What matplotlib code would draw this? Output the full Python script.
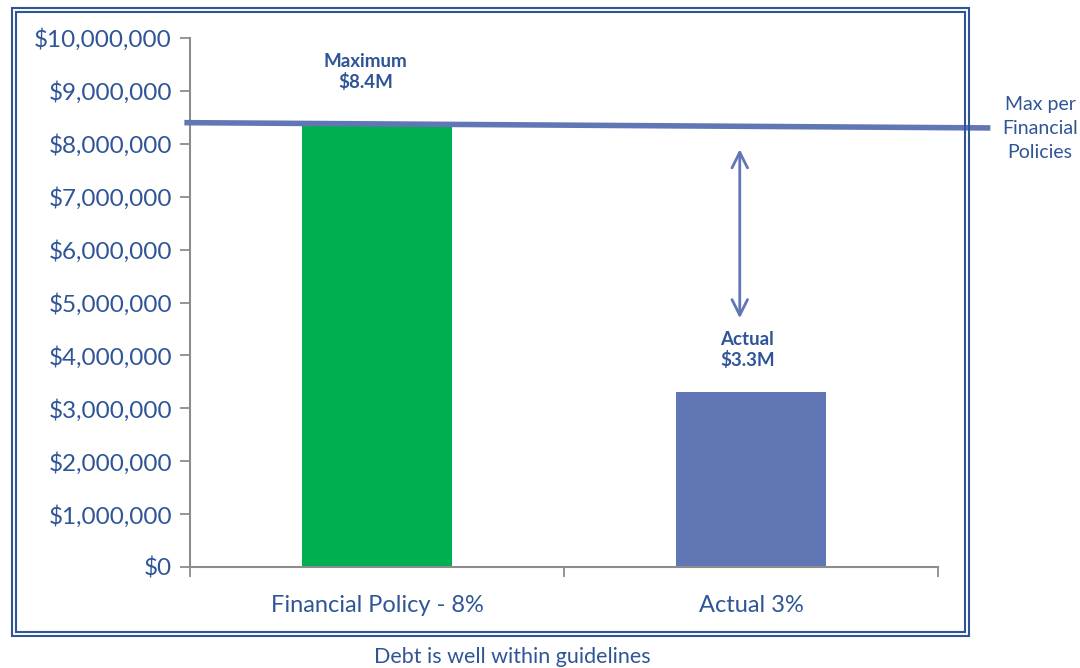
import matplotlib
matplotlib.use("Agg")
import matplotlib.pyplot as plt
from matplotlib.patches import Rectangle
from matplotlib.ticker import FuncFormatter

# Data
categories = ["Financial Policy - 8%", "Actual 3%"]
debt_values = [8400000, 3300000]
bar_colors = ["#00b050", "#6176b4"]
max_line_values = [8400000, 8300000]   # drawn line, slightly sloped
arrow_span = [7950000, 4650000]
bar_labels = ["Maximum\n$8.4M", "Actual\n$3.3M"]
label_heights = [9350000, 4100000]

text_blue = "#2f5597"
line_blue = "#6176b4"
spine_gray = "#8c8c8c"

plt.rcParams["font.family"] = ["Lato", "DejaVu Sans"]

fig = plt.figure(figsize=(10.8, 6.68), dpi=100)
ax = fig.add_axes([0.1759, 0.1512, 0.6926, 0.7919])

x = range(len(categories))
ax.bar(x, debt_values, width=0.4, color=bar_colors, zorder=2)

ax.set_xlim(-0.5, 1.5)
ax.set_ylim(0, 10000000)
ax.set_yticks(range(0, 10000001, 1000000))
ax.yaxis.set_major_formatter(FuncFormatter(lambda v, p: "${:,.0f}".format(v)))
ax.set_xticks(list(x))
ax.set_xticklabels(categories)
ax.set_xticks([-0.5, 0.5, 1.5], minor=True)
ax.tick_params(axis="x", which="major", length=0, pad=20, labelsize=17, labelcolor=text_blue)
ax.tick_params(axis="x", which="minor", length=7, color=spine_gray, width=1.3)
ax.tick_params(axis="y", length=7, color=spine_gray, width=1.3, labelsize=17.5,
               labelcolor=text_blue, pad=6)

for s in ["top", "right"]:
    ax.spines[s].set_visible(False)
for s in ["left", "bottom"]:
    ax.spines[s].set_color(spine_gray)
    ax.spines[s].set_linewidth(1.5)

# Max line across the chart, extending past the frame
ax.plot([-0.515, 1.64], max_line_values, color=line_blue, lw=4, clip_on=False, zorder=3,
        solid_capstyle="butt")

# Double arrow between max and actual
ax.annotate("", xy=(0.97, arrow_span[0]), xytext=(0.97, arrow_span[1]),
            arrowprops=dict(arrowstyle="<->", color=line_blue, lw=2,
                            mutation_scale=28))

# Bar annotations
label_x = [-0.03, 0.99]
for lx, ly, txt in zip(label_x, label_heights, bar_labels):
    ax.text(lx, ly, txt, ha="center", va="center", fontsize=13.5, fontweight="bold",
            color=text_blue, linespacing=1.2)

# Side label and footer
fig.text(0.963, 0.807, "Max per\nFinancial\nPolicies", ha="center", va="center",
         fontsize=14, color=text_blue, linespacing=1.5)
fig.text(0.474, 0.017, "Debt is well within guidelines", ha="center", va="center",
         fontsize=15.5, color=text_blue)

# Double frame
fig.patches.append(Rectangle((12 / 1080, 1 - 636 / 668), 957 / 1080, 628 / 668,
                             transform=fig.transFigure, fill=False,
                             edgecolor=text_blue, lw=1.5))
fig.patches.append(Rectangle((16 / 1080, 1 - 632 / 668), 949 / 1080, 620 / 668,
                             transform=fig.transFigure, fill=False,
                             edgecolor=text_blue, lw=1.5))

fig.savefig("out.png", dpi=100)
